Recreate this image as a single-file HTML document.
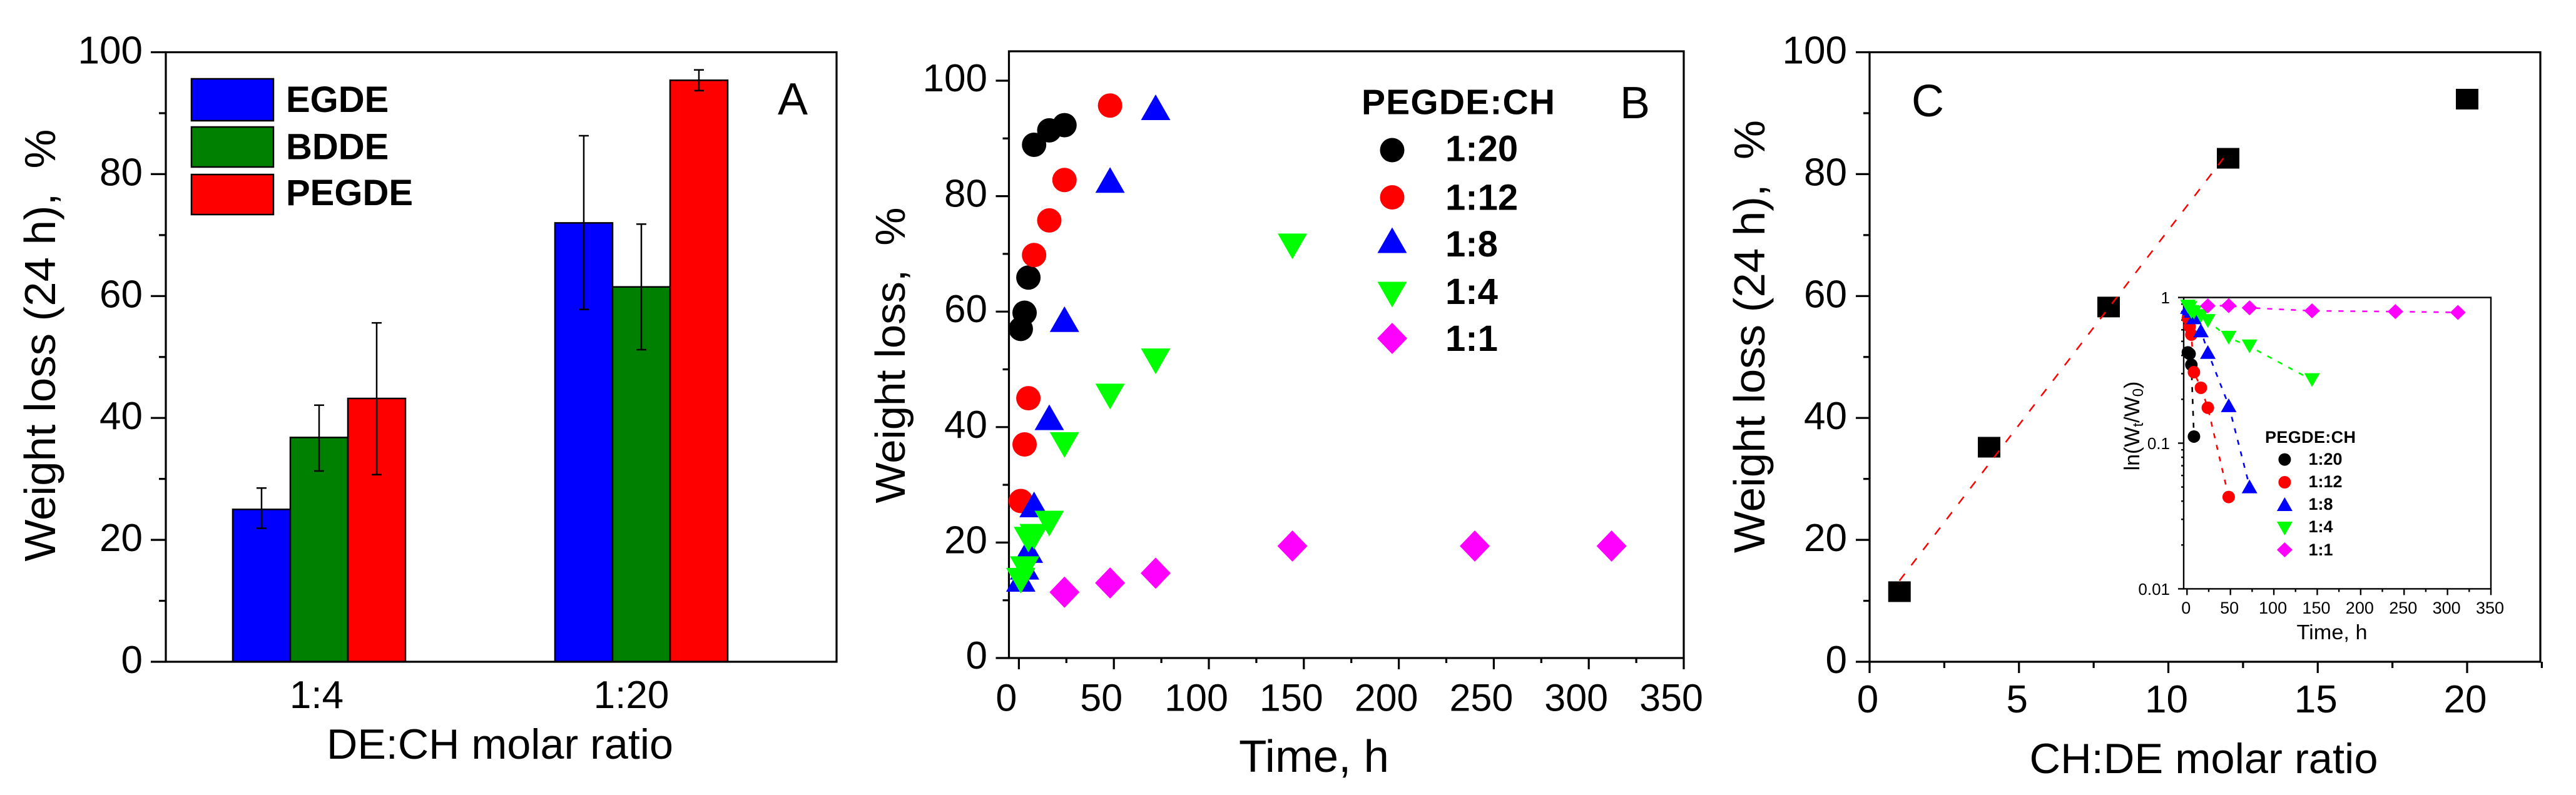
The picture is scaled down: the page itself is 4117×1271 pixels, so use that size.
<!DOCTYPE html>
<html lang="en">
<head>
<meta charset="utf-8">
<title>Weight loss charts</title>
<style>
html,body{margin:0;padding:0;background:#fff;}
svg{display:block;}
text{font-family:"Liberation Sans",Arial,sans-serif;fill:#000;}
</style>
</head>
<body>
<svg id="figure" xmlns="http://www.w3.org/2000/svg" width="4117" height="1271" viewBox="0 0 4117 1271">
  <rect x="0" y="0" width="4117" height="1271" fill="#fff"/>
  <g id="panelA"></g>
  <g id="panelB"></g>
  <g id="panelC"></g>
  <g id="inset"></g>

  <text x="88" y="552" transform="rotate(-90 88 552)" text-anchor="middle" font-size="70" textLength="691" lengthAdjust="spacingAndGlyphs">Weight loss (24 h), &#160;%</text>
  <text x="799" y="1213" text-anchor="middle" font-size="68" textLength="554" lengthAdjust="spacingAndGlyphs">DE:CH molar ratio</text>
  <text x="1243" y="183" font-size="72">A</text>

  <text x="1446" y="568" transform="rotate(-90 1446 568)" text-anchor="middle" font-size="67" textLength="473" lengthAdjust="spacingAndGlyphs">Weight loss, &#160;%</text>
  <text x="2100" y="1234" text-anchor="middle" font-size="72" textLength="240" lengthAdjust="spacingAndGlyphs">Time, h</text>
  <text x="2589" y="189" font-size="72">B</text>
  <text x="2176" y="182.5" font-size="57" font-weight="bold" textLength="309">PEGDE:CH</text>

  <text x="2820" y="538" transform="rotate(-90 2820 538)" text-anchor="middle" font-size="70" textLength="692" lengthAdjust="spacingAndGlyphs">Weight loss (24 h), &#160;%</text>
  <text x="3522" y="1236" text-anchor="middle" font-size="68" textLength="557" lengthAdjust="spacingAndGlyphs">CH:DE molar ratio</text>
  <text x="3055" y="186" font-size="72">C</text>

  <text x="3419" y="681" transform="rotate(-90 3419 681)" text-anchor="middle" font-size="34">ln(W<tspan dy="6" font-size="24">t</tspan><tspan dy="-6">/W</tspan><tspan dy="6" font-size="24">0</tspan><tspan dy="-6">)</tspan></text>
  <text x="3727" y="1022" text-anchor="middle" font-size="33" textLength="113" lengthAdjust="spacingAndGlyphs">Time, h</text>
  <text x="3620" y="708" font-size="27" font-weight="bold" textLength="145">PEGDE:CH</text>
</svg>
<script>
// Panel A data
const barCategories = ['1:4', '1:20'];
const barSeriesNames = ['EGDE', 'BDDE', 'PEGDE'];
const barEGDE = [25, 72];
const barBDDE = [36.8, 61.5];
const barPEGDE = [43.2, 95.4];
const barEGDEErrLow = [21.9, 57.8];
const barEGDEErrHigh = [28.5, 86.3];
const barBDDEErrLow = [31.3, 51.2];
const barBDDEErrHigh = [42.1, 71.8];
const barPEGDEErrLow = [30.7, 93.7];
const barPEGDEErrHigh = [55.6, 97.1];
const percentTicks = [0, 20, 40, 60, 80, 100];
const percentMinorTicks = [10, 30, 50, 70, 90];

// Panel B data
const ratioNames = ['1:20', '1:12', '1:8', '1:4', '1:1'];
const timeTicks = [0, 50, 100, 150, 200, 250, 300, 350];
const timeMinorTicks = [25, 75, 125, 175, 225, 275, 325];
const lossTime20 = [1, 3, 5, 8, 16, 24];
const lossValue20 = [57, 59.8, 65.9, 88.9, 91.4, 92.3];
const lossTime12 = [1, 3, 5, 8, 16, 24, 48];
const lossValue12 = [27.2, 37, 45, 69.8, 75.8, 82.8, 95.7];
const lossTime8 = [1, 3, 5, 8, 16, 24, 48, 72];
const lossValue8 = [13.7, 15.8, 18.7, 26.6, 41.7, 58.7, 82.8, 95.4];
const lossTime4 = [1, 3, 5, 8, 16, 24, 48, 72, 144];
const lossValue4 = [13.4, 15.4, 20.5, 21, 23.3, 36.9, 45.3, 51.4, 71.3];
const lossTime1 = [24, 48, 72, 144, 240, 312];
const lossValue1 = [11.4, 13, 14.7, 19.4, 19.4, 19.4];

// Panel C data
const ratioTicks = [0, 5, 10, 15, 20];
const ratioMinorTicks = [2.5, 7.5, 12.5, 17.5, 22.5];
const molarRatio = [1, 4, 8, 12, 20];
const loss24h = [11.5, 35.2, 58.2, 82.6, 92.3];
const fitRatio = [1, 12];
const fitLoss = [13.3, 83.6];

// Inset data
const insetLogTicks = [1, 0.1, 0.01];
const insetLogLabels = ['1', '0.1', '0.01'];
const insetLogMinorTicks = [0.9, 0.8, 0.7, 0.6, 0.5, 0.4, 0.3, 0.2, 0.09, 0.08, 0.07, 0.06, 0.05, 0.04, 0.03, 0.02];
const insetTime20 = [1, 3, 5, 8];
const insetValue20 = [0.42, 0.41, 0.345, 0.111];
const insetTime12 = [1, 3, 5, 8, 16, 24, 48];
const insetValue12 = [0.72, 0.63, 0.556, 0.307, 0.24, 0.175, 0.0427];
const insetTime8 = [1, 3, 5, 8, 16, 24, 48, 72];
const insetValue8 = [0.86, 0.84, 0.81, 0.73, 0.594, 0.4225, 0.182, 0.0505];
const insetTime4 = [1, 3, 5, 8, 16, 24, 48, 72, 144];
const insetValue4 = [0.866, 0.846, 0.795, 0.79, 0.746, 0.69, 0.53, 0.462, 0.271];
const insetTime1 = [24, 48, 72, 144, 240, 312];
const insetValue1 = [0.876, 0.879, 0.849, 0.81, 0.80, 0.79];

const NS = 'http://www.w3.org/2000/svg';
const INK = '#000';

function linear(d0, d1, r0, r1) {
  return function (v) { return r0 + (v - d0) * (r1 - r0) / (d1 - d0); };
}
function node(tag, attrs, parent) {
  const el = document.createElementNS(NS, tag);
  Object.keys(attrs).forEach(function (k) { el.setAttribute(k, attrs[k]); });
  parent.appendChild(el);
  return el;
}
function line(x1, y1, x2, y2, width, color, parent, name) {
  const el = node('line', {x1: x1, y1: y1, x2: x2, y2: y2, stroke: color, 'stroke-width': width}, parent);
  
  
  return el;
}
function label(str, x, y, size, anchor, weight, parent, name) {
  const el = node('text', {x: x, y: y, 'font-size': size, 'text-anchor': anchor, 'font-weight': weight}, parent);
  el.textContent = str;
  
  
  return el;
}
function frame(x0, y0, x1, y1, width, parent, name) {
  const el = node('rect', {x: x0, y: y0, width: x1 - x0, height: y1 - y0, fill: 'none', stroke: INK, 'stroke-width': width}, parent);
  
  
  return el;
}
function marker(shape, cx, cy, w, h, color, parent, name) {
  const hw = w / 2, hh = h / 2;
  let el;
  if (shape === 'circle') {
    el = node('ellipse', {cx: cx, cy: cy, rx: hw, ry: hh, fill: color}, parent);
  } else if (shape === 'up') {
    el = node('polygon', {points: (cx) + ',' + (cy - hh) + ' ' + (cx + hw) + ',' + (cy + hh) + ' ' + (cx - hw) + ',' + (cy + hh), fill: color}, parent);
  } else if (shape === 'down') {
    el = node('polygon', {points: (cx) + ',' + (cy + hh) + ' ' + (cx + hw) + ',' + (cy - hh) + ' ' + (cx - hw) + ',' + (cy - hh), fill: color}, parent);
  } else if (shape === 'diamond') {
    el = node('polygon', {points: (cx) + ',' + (cy - hh) + ' ' + (cx + hw) + ',' + cy + ' ' + (cx) + ',' + (cy + hh) + ' ' + (cx - hw) + ',' + cy, fill: color}, parent);
  } else {
    el = node('rect', {x: cx - hw, y: cy - hh, width: w, height: h, fill: color}, parent);
  }
  
  
  return el;
}
function yTicks(ticks, labels, minor, yFn, axisX, majLen, minLen, sw, labelX, dy, size, parent, prefix) {
  ticks.forEach(function (t, i) {
    line(axisX - majLen, yFn(t), axisX, yFn(t), sw, INK, parent, prefix + '-y-tick');
    label(labels[i], labelX, yFn(t) + dy, size, 'end', 'normal', parent, prefix + '-y-tick-label');
  });
  minor.forEach(function (t) {
    line(axisX - minLen, yFn(t), axisX, yFn(t), sw, INK, parent, prefix + '-y-minor-tick');
  });
}
function xTicks(ticks, minor, xFn, axisY, majLen, minLen, sw, labelDx, labelY, size, parent, prefix) {
  ticks.forEach(function (t) {
    line(xFn(t), axisY, xFn(t), axisY + majLen, sw, INK, parent, prefix + '-x-tick');
    label(String(t), xFn(t) + labelDx, labelY, size, 'middle', 'normal', parent, prefix + '-x-tick-label');
  });
  minor.forEach(function (t) {
    line(xFn(t), axisY, xFn(t), axisY + minLen, sw, INK, parent, prefix + '-x-minor-tick');
  });
}

/* ---------- Panel A ---------- */
(function () {
  const g = document.getElementById('panelA');
  const yA = linear(0, 100, 1058, 83.5);
  const xA = linear(0, 1, 510, 1025);
  const barW = 92;
  const colors = ['#0000ff', '#008000', '#ff0000'];
  const seriesVals = [barEGDE, barBDDE, barPEGDE];
  const seriesLow = [barEGDEErrLow, barBDDEErrLow, barPEGDEErrLow];
  const seriesHigh = [barEGDEErrHigh, barBDDEErrHigh, barPEGDEErrHigh];
  barCategories.forEach(function (cat, c) {
    barSeriesNames.forEach(function (nm, s) {
      const x = xA(c) + (s - 1.5) * barW;
      const bar = node('rect', {x: x, y: yA(seriesVals[s][c]), width: barW, height: yA(0) - yA(seriesVals[s][c]), fill: colors[s], stroke: INK, 'stroke-width': 2.5}, g);
      
      
    });
  });
  barCategories.forEach(function (cat, c) {
    barSeriesNames.forEach(function (nm, s) {
      const cx = xA(c) + (s - 1) * barW;
      line(cx, yA(seriesLow[s][c]), cx, yA(seriesHigh[s][c]), 2.5, INK, g, 'error-bar-' + nm.toLowerCase());
      line(cx - 8, yA(seriesLow[s][c]), cx + 8, yA(seriesLow[s][c]), 2.5, INK, g, 'error-cap-low');
      line(cx - 8, yA(seriesHigh[s][c]), cx + 8, yA(seriesHigh[s][c]), 2.5, INK, g, 'error-cap-high');
    });
  });
  frame(265, 83.5, 1337, 1058, 3.2, g, 'panel-a-frame');
  yTicks(percentTicks, percentTicks.map(String), percentMinorTicks, yA, 265, 24, 11, 3.2, 228, 18, 62, g, 'panel-a');
  label(barCategories[0], 506, 1132, 62, 'middle', 'normal', g, 'panel-a-x-tick-label');
  label(barCategories[1], 1009, 1132, 62, 'middle', 'normal', g, 'panel-a-x-tick-label');
  const swY = [126, 203, 279];
  const swH = [67, 64, 64];
  const txtY = [179, 254.5, 328];
  barSeriesNames.forEach(function (nm, s) {
    const sw = node('rect', {x: 306, y: swY[s], width: 131, height: swH[s], fill: colors[s], stroke: INK, 'stroke-width': 2.5}, g);
    
    
    label(nm, 457, txtY[s], 58, 'start', 'bold', g, 'legend-label-' + nm.toLowerCase());
  });
})();

/* ---------- Panel B ---------- */
const shapes = ['circle', 'circle', 'up', 'down', 'diamond'];
const shapeColors = ['#000000', '#ff0000', '#0000ff', '#00ff00', '#ff00ff'];
(function () {
  const g = document.getElementById('panelB');
  const xB = linear(0, 350, 1628.4, 2691);
  const yB = linear(0, 100, 1052, 129);
  const times = [lossTime20, lossTime12, lossTime8, lossTime4, lossTime1];
  const vals = [lossValue20, lossValue12, lossValue8, lossValue4, lossValue1];
  const sizeW = [39, 39, 47, 47, 48];
  const sizeH = [39, 39, 41, 41, 50];
  frame(1612.5, 82, 2691, 1052, 3.2, g, 'panel-b-frame');
  yTicks(percentTicks, percentTicks.map(String), percentMinorTicks, yB, 1612.5, 21, 10, 3.2, 1578, 17, 62, g, 'panel-b');
  xTicks(timeTicks, timeMinorTicks, xB, 1052, 18, 8, 3.2, -20, 1136.5, 61, g, 'panel-b');
  ratioNames.forEach(function (nm, s) {
    times[s].forEach(function (t, i) {
      marker(shapes[s], xB(t), yB(vals[s][i]), sizeW[s], sizeH[s], shapeColors[s], g, 'point-' + nm.replace(':', '-') + '-' + t + 'h');
    });
  });
  const legY = [240, 315.5, 384, 471, 541];
  const legTxtY = [257.5, 335.5, 410, 486, 561];
  ratioNames.forEach(function (nm, s) {
    marker(shapes[s], 2225, legY[s], sizeW[s], sizeH[s], shapeColors[s], g, 'legend-marker-' + nm.replace(':', '-'));
    label(nm, 2310, legTxtY[s], 58, 'start', 'bold', g, 'legend-label-' + nm.replace(':', '-'));
  });
})();

/* ---------- Panel C ---------- */
(function () {
  const g = document.getElementById('panelC');
  const xC = linear(0, 20, 2988, 3943);
  const yC = linear(0, 100, 1058, 83.5);
  frame(2988, 83.5, 4060, 1058, 3.2, g, 'panel-c-frame');
  yTicks(percentTicks, percentTicks.map(String), percentMinorTicks, yC, 2988, 22, 10, 3.2, 2952, 18, 62, g, 'panel-c');
  xTicks(ratioTicks, ratioMinorTicks, xC, 1058, 18, 10, 3.2, -3, 1139, 62, g, 'panel-c');
  molarRatio.forEach(function (r, i) {
    marker('square', xC(r), yC(loss24h[i]), 36, 33, '#000000', g, 'point-ratio-' + r);
  });
  const fit = line(xC(fitRatio[0]), yC(fitLoss[0]), xC(fitRatio[1]), yC(fitLoss[1]), 2.5, '#ff0000', g, 'linear-fit-line');
  fit.setAttribute('stroke-dasharray', '14 17');
})();

/* ---------- Inset ---------- */
(function () {
  const g = document.getElementById('inset');
  const xI = linear(0, 350, 3495.3, 3981);
  const yI = function (v) { return 475.6 - Math.log10(v) * 232.9; };
  const times = [insetTime20, insetTime12, insetTime8, insetTime4, insetTime1];
  const vals = [insetValue20, insetValue12, insetValue8, insetValue4, insetValue1];
  const sizeW = [20, 20, 25, 25, 25];
  const sizeH = [20, 20, 22, 22, 24];
  frame(3490, 475.6, 3981, 941.4, 2.4, g, 'inset-frame');
  yTicks(insetLogTicks, insetLogLabels, insetLogMinorTicks, yI, 3490, 9, 4, 2.4, 3468, 9.5, 26, g, 'inset');
  xTicks(timeTicks, timeMinorTicks, xI, 941.4, 10, 5, 2.4, -1.5, 981, 27, g, 'inset');
  ratioNames.forEach(function (nm, s) {
    const pts = times[s].map(function (t, i) { return xI(t) + ',' + yI(vals[s][i]); }).join(' ');
    const pl = node('polyline', {points: pts, fill: 'none', stroke: shapeColors[s], 'stroke-width': 2.6, 'stroke-dasharray': '8 11'}, g);
    
    
  });
  ratioNames.forEach(function (nm, s) {
    times[s].forEach(function (t, i) {
      marker(shapes[s], xI(t), yI(vals[s][i]), sizeW[s], sizeH[s], shapeColors[s], g, 'inset-point-' + nm.replace(':', '-') + '-' + t + 'h');
    });
  });
  const legY = [734.6, 771, 806, 845, 879];
  const legTxtY = [743, 779, 815, 851, 888];
  ratioNames.forEach(function (nm, s) {
    marker(shapes[s], 3651.4, legY[s], sizeW[s], sizeH[s], shapeColors[s], g, 'inset-legend-marker-' + nm.replace(':', '-'));
    label(nm, 3689.5, legTxtY[s], 27, 'start', 'bold', g, 'inset-legend-label-' + nm.replace(':', '-'));
  });
})();
</script>
</body>
</html>
